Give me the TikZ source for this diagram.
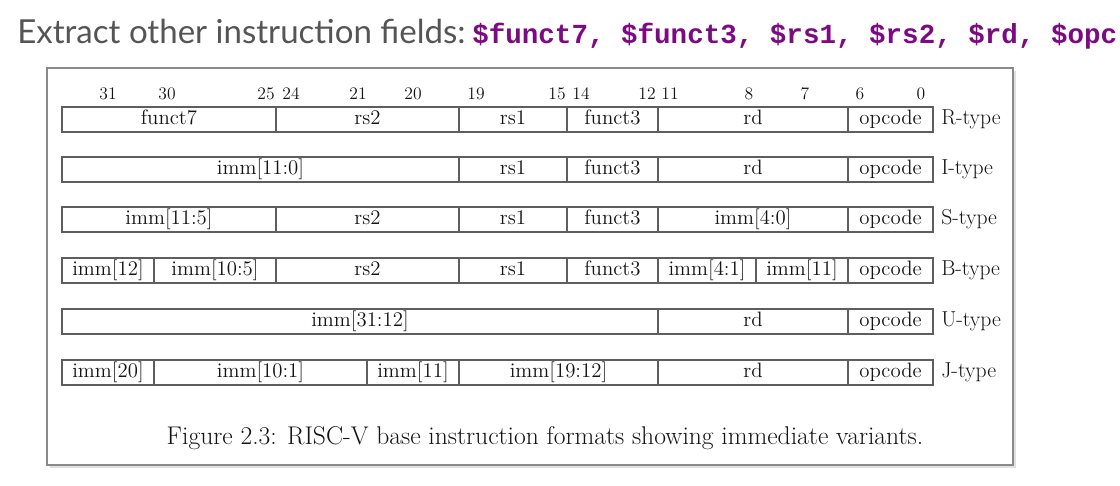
\documentclass[tikz,border=0pt]{standalone}
\usepackage{fontspec}
\newfontfamily\latofont{Lato}
\newfontfamily\codefont{Liberation Mono}
\usetikzlibrary{calc}

\definecolor{titlegray}{HTML}{555555}
\definecolor{codepurple}{HTML}{7D0A82}
\definecolor{framegray}{HTML}{8A8A8A}
\definecolor{cellgray}{HTML}{5E5E5E}

\tikzset{
	cell/.style={draw=cellgray, line width=0.9pt},
	fieldtxt/.style={font=\fontsize{14.8}{16}\selectfont, text=black!92, inner sep=0pt, text height=10pt, text depth=3pt},
	bitno/.style={font=\fontsize{12.5}{14}\selectfont, text=black!92, inner sep=0pt},
	fmtname/.style={fieldtxt, font=\fontsize{15.4}{17}\selectfont, anchor=west}
}

\begin{document}
\begin{tikzpicture}[x=0.025cm, y=-0.025cm]
		\useasboundingbox (0,0) rectangle (1120,486);
		\fill[white] (0,0) rectangle (1120,486);
		\clip (0,0) rectangle (1120,486);
		% slide title
		\node[anchor=base west, inner sep=0pt, text=titlegray, font=\latofont\fontsize{23.5}{27}\selectfont] (title) at (17,44) {Extract other instruction fields:};
		\node[anchor=base west, inner sep=0pt, text=codepurple, font=\codefont\bfseries\fontsize{19.6}{22}\selectfont] (regs) at (472,44) {\$funct7, \$funct3, \$rs1, \$rs2, \$rd, \$opc};
		% figure frame
		\draw[black!12, line width=2pt] (50,466.5) -- (1014.5,466.5) -- (1014.5,71);
		\draw[framegray, line width=0.8pt] (47,68) rectangle (1013,465);
		% bit positions
		\foreach \b/\x in {31/108, 30/167, 25/266, 24/291, 21/358, 20/413, 19/476, 15/557, 14/581, 12/647, 11/670, 8/749, 7/805, 6/860, 0/921}
			\node[bitno] (bit\b) at (\x,94) {\b};
		% R-type
		\draw[cell] (62,107) rectangle (276,132) node[fieldtxt, midway] (r-funct7) {funct7};
		\draw[cell] (276,107) rectangle (459,132) node[fieldtxt, midway] (r-rs2) {rs2};
		\draw[cell] (459,107) rectangle (567,132) node[fieldtxt, midway] (r-rs1) {rs1};
		\draw[cell] (567,107) rectangle (658,132) node[fieldtxt, midway] (r-funct3) {funct3};
		\draw[cell] (658,107) rectangle (848,132) node[fieldtxt, midway] (r-rd) {rd};
		\draw[cell] (848,107) rectangle (933,132) node[fieldtxt, midway] (r-op) {opcode};
		\node[fmtname] (rtype) at (941,119.5) {R-type};
		% I-type
		\draw[cell] (62,157) rectangle (459,182) node[fieldtxt, midway] (i-imm) {imm[11:0]};
		\draw[cell] (459,157) rectangle (567,182) node[fieldtxt, midway] (i-rs1) {rs1};
		\draw[cell] (567,157) rectangle (658,182) node[fieldtxt, midway] (i-funct3) {funct3};
		\draw[cell] (658,157) rectangle (848,182) node[fieldtxt, midway] (i-rd) {rd};
		\draw[cell] (848,157) rectangle (933,182) node[fieldtxt, midway] (i-op) {opcode};
		\node[fmtname] (itype) at (941,169.5) {I-type};
		% S-type
		\draw[cell] (62,207) rectangle (276,232) node[fieldtxt, midway] (s-immhi) {imm[11:5]};
		\draw[cell] (276,207) rectangle (459,232) node[fieldtxt, midway] (s-rs2) {rs2};
		\draw[cell] (459,207) rectangle (567,232) node[fieldtxt, midway] (s-rs1) {rs1};
		\draw[cell] (567,207) rectangle (658,232) node[fieldtxt, midway] (s-funct3) {funct3};
		\draw[cell] (658,207) rectangle (848,232) node[fieldtxt, midway] (s-immlo) {imm[4:0]};
		\draw[cell] (848,207) rectangle (933,232) node[fieldtxt, midway] (s-op) {opcode};
		\node[fmtname] (stype) at (941,219.5) {S-type};
		% B-type
		\draw[cell] (62,258) rectangle (154,283) node[fieldtxt, midway] (b-imm12) {imm[12]};
		\draw[cell] (154,258) rectangle (276,283) node[fieldtxt, midway] (b-immhi) {imm[10:5]};
		\draw[cell] (276,258) rectangle (459,283) node[fieldtxt, midway] (b-rs2) {rs2};
		\draw[cell] (459,258) rectangle (567,283) node[fieldtxt, midway] (b-rs1) {rs1};
		\draw[cell] (567,258) rectangle (658,283) node[fieldtxt, midway] (b-funct3) {funct3};
		\draw[cell] (658,258) rectangle (756,283) node[fieldtxt, midway] (b-immlo) {imm[4:1]};
		\draw[cell] (756,258) rectangle (848,283) node[fieldtxt, midway] (b-imm11) {imm[11]};
		\draw[cell] (848,258) rectangle (933,283) node[fieldtxt, midway] (b-op) {opcode};
		\node[fmtname] (btype) at (941,270.5) {B-type};
		% U-type
		\draw[cell] (62,309) rectangle (658,334) node[fieldtxt, midway] (u-imm) {imm[31:12]};
		\draw[cell] (658,309) rectangle (848,334) node[fieldtxt, midway] (u-rd) {rd};
		\draw[cell] (848,309) rectangle (933,334) node[fieldtxt, midway] (u-op) {opcode};
		\node[fmtname] (utype) at (941,321.5) {U-type};
		% J-type
		\draw[cell] (62,360) rectangle (154,385) node[fieldtxt, midway] (j-imm20) {imm[20]};
		\draw[cell] (154,360) rectangle (367,385) node[fieldtxt, midway] (j-immlo) {imm[10:1]};
		\draw[cell] (367,360) rectangle (459,385) node[fieldtxt, midway] (j-imm11) {imm[11]};
		\draw[cell] (459,360) rectangle (658,385) node[fieldtxt, midway] (j-immhi) {imm[19:12]};
		\draw[cell] (658,360) rectangle (848,385) node[fieldtxt, midway] (j-rd) {rd};
		\draw[cell] (848,360) rectangle (933,385) node[fieldtxt, midway] (j-op) {opcode};
		\node[fmtname] (jtype) at (941,372.5) {J-type};
		% caption
		\node[inner sep=0pt, text=black!92, font=\fontsize{18.2}{20}\selectfont] (caption) at (545,438) {Figure 2.3: RISC-V base instruction formats showing immediate variants.};
\end{tikzpicture}
\end{document}
